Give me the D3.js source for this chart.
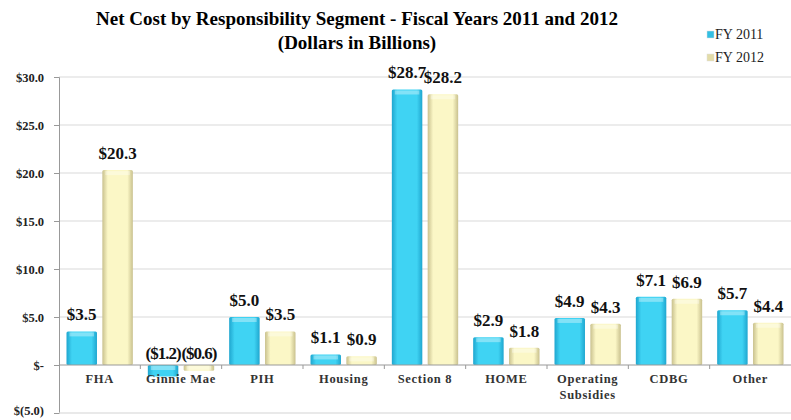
<!DOCTYPE html>
<html>
<head>
<meta charset="utf-8">
<script src="https://cdn.jsdelivr.net/npm/d3@7"></script>
<style>
  body { margin: 0; background: #fff; }
  text { font-family: "Liberation Serif", "Times New Roman", serif; }
</style>
</head>
<body>
<svg id="chart" width="791" height="420"></svg>
<script>
var categories = ["FHA", "Ginnie Mae", "PIH", "Housing", "Section 8", "HOME", "Operating Subsidies", "CDBG", "Other"]
var fy2011 = [3.5, -1.2, 5.0, 1.1, 28.7, 2.9, 4.9, 7.1, 5.7]
var fy2012 = [20.3, -0.6, 3.5, 0.9, 28.2, 1.8, 4.3, 6.9, 4.4]
var seriesNames = ["FY 2011", "FY 2012"]
var yTicks = [-5, 0, 5, 10, 15, 20, 25, 30]

var svg = d3.select("#chart"),
  margin = {top: 77, right: 0, bottom: 7, left: 59},
  width = +svg.attr("width") - margin.left - margin.right,
  height = +svg.attr("height") - margin.top - margin.bottom;

var x = d3.scaleBand().range([0, width]).domain(categories).paddingInner(0).paddingOuter(0),
  xs = d3.scaleBand().range([7.5, x.bandwidth() - 7.5]).domain(seriesNames).paddingInner(0.15),
  y = d3.scaleLinear().range([height, 0]).domain([-5, 30]);

var defs = svg.append("defs")
function grad(id, edge, mid) {
  var g = defs.append("linearGradient").attr("id", id).attr("x1", 0).attr("x2", 1).attr("y1", 0).attr("y2", 0)
  g.append("stop").attr("offset", "0%").attr("stop-color", edge)
  g.append("stop").attr("offset", "18%").attr("stop-color", mid)
  g.append("stop").attr("offset", "82%").attr("stop-color", mid)
  g.append("stop").attr("offset", "100%").attr("stop-color", edge)
}
grad("gBlue", "#1fa6cf", "#3fd3f3")
grad("gYellow", "#c9c18e", "#fbf7c6")
var fills = {"FY 2011": "url(#gBlue)", "FY 2012": "url(#gYellow)"}
var solid = {"FY 2011": "#33bfe3", "FY 2012": "#e3dca8"}

// title
svg.append("text").attr("x", 357).attr("y", 25).attr("text-anchor", "middle")
  .attr("font-size", 19).attr("font-weight", "bold").text("Net Cost by Responsibility Segment - Fiscal Years 2011 and 2012")
svg.append("text").attr("x", 357).attr("y", 49).attr("text-anchor", "middle")
  .attr("font-size", 19).attr("font-weight", "bold").text("(Dollars in Billions)")

var g = svg.append("g").attr("transform", "translate(" + margin.left + "," + margin.top + ")")

// gridlines
g.selectAll(".grid").data(yTicks.filter(d => d != 0)).enter().append("line")
  .attr("x1", 0).attr("x2", width).attr("y1", d => y(d)).attr("y2", d => y(d))
  .attr("stroke", "#d9d9d9").attr("stroke-width", 1)

// y axis
var yAxis = d3.axisLeft(y).tickValues(yTicks).tickSize(5).tickPadding(10)
  .tickFormat(function(d) {
    if (d == 0) return "$-"
    if (d < 0) return "$(" + d3.format(".1f")(-d) + ")"
    return "$" + d3.format(".1f")(d)
  })
var ya = g.append("g").call(yAxis)
ya.select(".domain").attr("stroke", "#999")
ya.selectAll(".tick line").attr("stroke", "#999")
ya.selectAll("text").attr("font-size", 12.5).attr("font-weight", "bold").attr("fill", "#222")
  .style("font-family", '"Liberation Serif", serif')
ya.selectAll(".tick").filter(d => d == -5).select("text").attr("dy", "0.1em")

// bars
var rows = categories.map((c, i) => ({cat: c, vals: [{s: "FY 2011", v: fy2011[i]}, {s: "FY 2012", v: fy2012[i]}]}))
var cg = g.selectAll(".cat").data(rows).enter().append("g")
  .attr("transform", d => "translate(" + x(d.cat) + ",0)")

cg.selectAll("rect").data(d => d.vals).enter().append("rect")
  .attr("x", d => xs(d.s)).attr("width", xs.bandwidth())
  .attr("y", d => y(Math.max(0, d.v))).attr("height", d => Math.abs(y(d.v) - y(0)))
  .attr("fill", d => fills[d.s]).attr("rx", 1.5)

// top highlight
cg.selectAll(".hl").data(d => d.vals).enter().append("rect")
  .attr("x", d => xs(d.s) + 3).attr("width", xs.bandwidth() - 6)
  .attr("y", d => y(Math.max(0, d.v)) + 1).attr("height", d => Math.min(4, Math.abs(y(d.v) - y(0)) - 2))
  .attr("fill", "#fff").attr("opacity", 0.35)

// value labels
cg.selectAll(".lbl").data(d => d.vals).enter().append("text")
  .attr("x", d => xs(d.s) + xs.bandwidth() / 2)
  .attr("y", d => d.v < 0 ? y(0) - 6 : y(d.v) - 11)
  .attr("text-anchor", "middle").attr("font-size", 17).attr("font-weight", "bold").attr("fill", "#111")
  .attr("letter-spacing", d => d.v < 0 ? -1 : 0)
  .text(d => d.v < 0 ? "($" + d3.format(".1f")(-d.v) + ")" : "$" + d3.format(".1f")(d.v))

// zero axis
g.append("line").attr("x1", 0).attr("x2", width).attr("y1", y(0)).attr("y2", y(0))
  .attr("stroke", "#999")
g.selectAll(".xt").data(categories.slice(1)).enter().append("line")
  .attr("x1", d => x(d)).attr("x2", d => x(d)).attr("y1", y(0)).attr("y2", y(0) + 4).attr("stroke", "#999")
g.append("line").attr("x1", 0).attr("x2", width).attr("y1", y(-5)).attr("y2", y(-5))
  .attr("stroke", "#e6e6e6")

// category labels
var cl = g.selectAll(".cl").data(categories).enter().append("text")
  .attr("x", d => x(d) + x.bandwidth() / 2).attr("y", y(0) + 18)
  .attr("text-anchor", "middle").attr("font-size", 12.5).attr("font-weight", "bold").attr("fill", "#333")
  .attr("letter-spacing", 0.7)
cl.each(function(d) {
  var words = d == "Operating Subsidies" ? ["Operating", "Subsidies"] : [d]
  var t = d3.select(this)
  words.forEach((w, i) => t.append("tspan").attr("x", x(d) + x.bandwidth() / 2).attr("dy", i ? 16 : 0).text(w))
})

// legend
var lg = svg.append("g").attr("transform", "translate(707,0)")
seriesNames.forEach(function(s, i) {
  lg.append("rect").attr("x", 0).attr("y", 31 + i * 23).attr("width", 7).attr("height", 7)
    .attr("fill", solid[s]).attr("stroke", "#ddd").attr("stroke-width", 0.5)
  lg.append("text").attr("x", 8).attr("y", 39 + i * 23).attr("font-size", 14).attr("fill", "#222").text(s)
})
</script>
</body>
</html>
